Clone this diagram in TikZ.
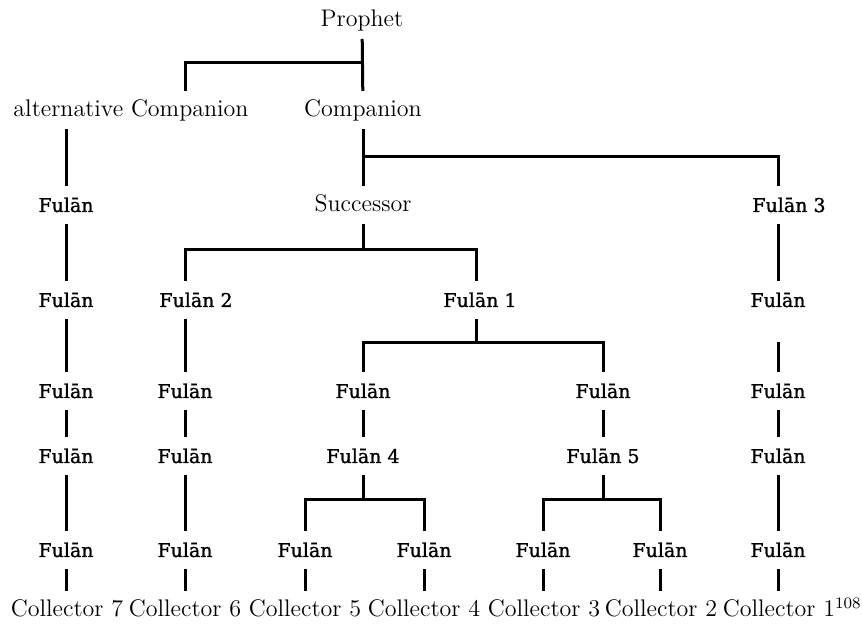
\documentclass[tikz,border=0pt]{standalone}
\usepackage{fontspec}
\newfontfamily\fulanfont{DejaVu Serif}[FakeBold=1.2]
\begin{document}
\begin{tikzpicture}[
        x=0.5pt, y=-0.5pt,
        every node/.style={font=\fontsize{12}{14}\selectfont, inner sep=0pt, outer xsep=0pt, outer ysep=5pt, text height=8pt, text depth=1pt},
        fulan/.style={font=\fulanfont\fontsize{9.5}{11}\selectfont},
        link/.style={draw=black, line width=1.5pt}
        ]
        \useasboundingbox (0,0) rectangle (862,624);

        % Top of the chain
        \node (prophet) at (362,20) {Prophet};
        \node (altcomp) at (131,110) {alternative Companion};
        \node (comp) at (363,110) {Companion};

        % Row of the successor
        \node[fulan] (fa1) at (66,205) {Fulān};
        \node (succ) at (363,205) {Successor};
        \node[fulan] (fthree) at (789,205) {Fulān 3};

        \node[fulan] (fa2) at (66,300) {Fulān};
        \node[fulan] (ftwo) at (196,300) {Fulān 2};
        \node[fulan] (fone) at (480,300) {Fulān 1};
        \node[fulan] (fr2) at (778,300) {Fulān};

        \node[fulan] (fa3) at (66,391) {Fulān};
        \node[fulan] (fb3) at (185,391) {Fulān};
        \node[fulan] (fc3) at (363,391) {Fulān};
        \node[fulan] (fd3) at (603,391) {Fulān};
        \node[fulan] (fr3) at (778,391) {Fulān};

        \node[fulan] (fa4) at (66,456) {Fulān};
        \node[fulan] (fb4) at (185,456) {Fulān};
        \node[fulan] (ffour) at (363,456) {Fulān 4};
        \node[fulan] (ffive) at (603,456) {Fulān 5};
        \node[fulan] (fr4) at (778,456) {Fulān};

        \node[fulan] (fa5) at (66,550) {Fulān};
        \node[fulan] (fb5) at (185,550) {Fulān};
        \node[fulan] (fc5) at (305,550) {Fulān};
        \node[fulan] (fd5) at (424,550) {Fulān};
        \node[fulan] (fe5) at (543,550) {Fulān};
        \node[fulan] (ff5) at (660,550) {Fulān};
        \node[fulan] (fr5) at (778,550) {Fulān};

        % Collectors
        \node (col7) at (67,610) {Collector 7};
        \node (col6) at (185,610) {Collector 6};
        \node (col5) at (305,610) {Collector 5};
        \node (col4) at (424,610) {Collector 4};
        \node (col3) at (544,610) {Collector 3};
        \node (col2) at (661,610) {Collector 2};
        \node (col1) at (779,610) {Collector 1\rlap{\textsuperscript{108}}};

        % Bar corners
        \coordinate (pbar) at (185,63);
        \coordinate (cbar) at (778,157);
        \coordinate (sbar) at (185,250);
        \coordinate (sbar2) at (476,250);
        \coordinate (obar) at (363,343);
        \coordinate (obar2) at (603,343);
        \coordinate (fbar) at (305,500);
        \coordinate (fbar2) at (424,500);
        \coordinate (vbar) at (543,500);
        \coordinate (vbar2) at (660,500);

        % Branches
        \draw[link] (prophet) -- (comp);
        \draw[link] (prophet |- pbar) -- (pbar) -- (pbar |- altcomp.north);
        \draw[link] (fa1 |- altcomp.south) -- (fa1);
        \draw[link] (comp) -- (succ);
        \draw[link] (comp |- cbar) -- (cbar) -- (cbar |- fthree.north);
        \draw[link] (succ) -- (succ |- sbar);
        \draw[link] (sbar |- ftwo.north) -- (sbar) -- (sbar2) -- (sbar2 |- fone.north);
        \draw[link] (fone.south -| sbar2) -- (sbar2 |- obar);
        \draw[link] (fc3) -- (obar) -- (obar2) -- (fd3);
        \draw[link] (fc3) -- (ffour);
        \draw[link] (fd3) -- (ffive);
        \draw[link] (ffour) -- (ffour |- fbar);
        \draw[link] (fc5) -- (fbar) -- (fbar2) -- (fd5);
        \draw[link] (ffive) -- (ffive |- vbar);
        \draw[link] (fe5) -- (vbar) -- (vbar2) -- (ff5);

        % Straight chains
        \draw[link] (fa1) -- (fa2);
        \draw[link] (fa2) -- (fa3);
        \draw[link] (fa3) -- (fa4);
        \draw[link] (fa4) -- (fa5);
        \draw[link] (fa5) -- (fa5 |- col7.north);
        \draw[link] (ftwo.south -| fb3) -- (fb3);
        \draw[link] (fb3) -- (fb4);
        \draw[link] (fb4) -- (fb5);
        \draw[link] (fb5) -- (fb5 |- col6.north);
        \draw[link] (fc5) -- (fc5 |- col5.north);
        \draw[link] (fd5) -- (fd5 |- col4.north);
        \draw[link] (fe5) -- (fe5 |- col3.north);
        \draw[link] (ff5) -- (ff5 |- col2.north);
        \draw[link] (fthree.south -| fr2) -- (fr2);
        \draw[link, shorten <=11.5pt] (fr2) -- (fr3);
        \draw[link] (fr3) -- (fr4);
        \draw[link] (fr4) -- (fr5);
        \draw[link] (fr5) -- (fr5 |- col1.north);

    \end{tikzpicture}
\end{document}
